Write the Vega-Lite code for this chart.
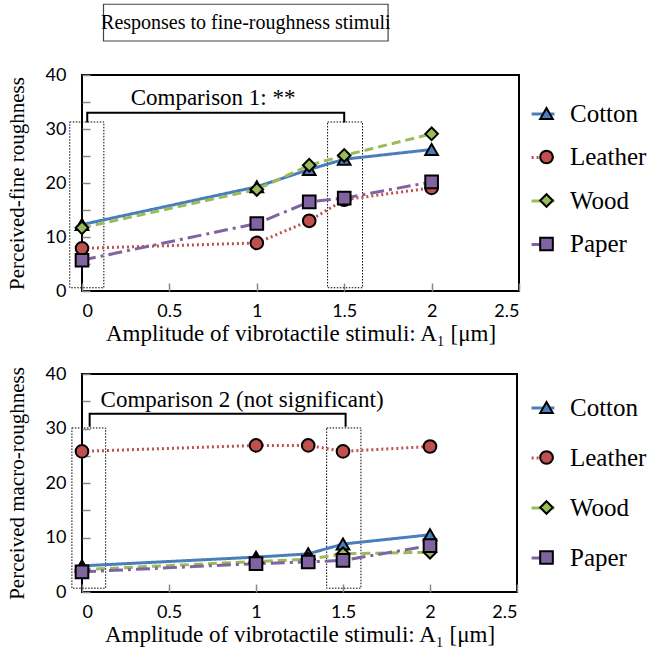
{
  "$schema": "https://vega.github.io/schema/vega-lite/v6.json",
  "padding": {"left": 5, "top": 2, "right": 0, "bottom": 0},
  "background": "white",
  "config": {
    "font": "Liberation Serif, Times New Roman, serif",
    "text": {"font": "Liberation Serif, Times New Roman, serif"},
    "view": {"stroke": "black", "strokeWidth": 2},
    "axis": {
      "labelFont": "Lato", "titleFont": "Liberation Serif, Times New Roman, serif",
      "labelFontSize": 18, "titleFontSize": 21, "titleFontWeight": "normal",
      "labelColor": "black", "titleColor": "black",
      "grid": false, "domain": false,
      "tickColor": "#888888", "tickSize": -8, "tickWidth": 1.5
    },
    "axisX": {"titleFontSize": 23},
    "legend": {"labelFont": "Liberation Serif, Times New Roman, serif"},
    "concat": {"spacing": 18}
  },
  "resolve": {
    "scale": {"x": "independent", "y": "independent", "color": "independent", "shape": "independent", "stroke": "independent", "strokeDash": "independent"},
    "legend": {"color": "independent", "shape": "independent", "stroke": "independent", "strokeDash": "independent"}
  },
  "datasets": {
    "fine": [
      {"amp": 0, "material": "Cotton", "v": 12.3},
      {"amp": 1, "material": "Cotton", "v": 19.3},
      {"amp": 1.3, "material": "Cotton", "v": 22.5},
      {"amp": 1.5, "material": "Cotton", "v": 24.4},
      {"amp": 2, "material": "Cotton", "v": 26.2},
      {"amp": 0, "material": "Leather", "v": 7.9},
      {"amp": 1, "material": "Leather", "v": 8.9},
      {"amp": 1.3, "material": "Leather", "v": 13.0},
      {"amp": 1.5, "material": "Leather", "v": 16.9},
      {"amp": 2, "material": "Leather", "v": 19.1},
      {"amp": 0, "material": "Wood", "v": 11.7},
      {"amp": 1, "material": "Wood", "v": 18.8},
      {"amp": 1.3, "material": "Wood", "v": 23.3},
      {"amp": 1.5, "material": "Wood", "v": 25.1},
      {"amp": 2, "material": "Wood", "v": 29.1},
      {"amp": 0, "material": "Paper", "v": 5.7},
      {"amp": 1, "material": "Paper", "v": 12.5},
      {"amp": 1.3, "material": "Paper", "v": 16.5},
      {"amp": 1.5, "material": "Paper", "v": 17.2},
      {"amp": 2, "material": "Paper", "v": 20.2}
    ],
    "macro": [
      {"amp": 0, "material": "Cotton", "v": 4.8},
      {"amp": 1, "material": "Cotton", "v": 6.4},
      {"amp": 1.3, "material": "Cotton", "v": 7.0},
      {"amp": 1.5, "material": "Cotton", "v": 8.8},
      {"amp": 2, "material": "Cotton", "v": 10.5},
      {"amp": 0, "material": "Leather", "v": 25.8},
      {"amp": 1, "material": "Leather", "v": 26.9},
      {"amp": 1.3, "material": "Leather", "v": 26.9},
      {"amp": 1.5, "material": "Leather", "v": 25.8},
      {"amp": 2, "material": "Leather", "v": 26.7},
      {"amp": 0, "material": "Wood", "v": 4.1},
      {"amp": 1, "material": "Wood", "v": 5.6},
      {"amp": 1.3, "material": "Wood", "v": 6.0},
      {"amp": 1.5, "material": "Wood", "v": 7.0},
      {"amp": 2, "material": "Wood", "v": 7.3},
      {"amp": 0, "material": "Paper", "v": 3.7},
      {"amp": 1, "material": "Paper", "v": 5.2},
      {"amp": 1.3, "material": "Paper", "v": 5.5},
      {"amp": 1.5, "material": "Paper", "v": 5.8},
      {"amp": 2, "material": "Paper", "v": 8.5}
    ],
    "fineBoxes": [
      {"amp": -0.07, "amp2": 0.125, "v": 0.6, "v2": 31.3},
      {"amp": 1.405, "amp2": 1.605, "v": 0.6, "v2": 31.3}
    ],
    "fineBracket": [
      {"o": 1, "amp": 0.03, "v": 31.2},
      {"o": 2, "amp": 0.03, "v": 33},
      {"o": 3, "amp": 1.5, "v": 33},
      {"o": 4, "amp": 1.5, "v": 31.2}
    ],
    "titleBox": [
      {"amp": 0.123, "amp2": 1.751, "v": 46.3, "v2": 53.1}
    ],
    "fineText": [
      {"amp": 0.75, "v": 35.8, "label": "Comparison 1: **"}
    ],
    "titleText": [
      {"amp": 0.937, "v": 49.7, "label": "Responses to fine-roughness stimuli"}
    ],
    "macroBoxes": [
      {"amp": -0.058, "amp2": 0.136, "v": 0.7, "v2": 30.1},
      {"amp": 1.406, "amp2": 1.603, "v": 0.7, "v2": 30.1}
    ],
    "macroBracket": [
      {"o": 1, "amp": 0.044, "v": 30.3},
      {"o": 2, "amp": 0.044, "v": 32.7},
      {"o": 3, "amp": 1.515, "v": 32.7},
      {"o": 4, "amp": 1.515, "v": 30.3}
    ],
    "macroText": [
      {"amp": 0.92, "v": 35.3, "label": "Comparison 2 (not significant)"}
    ]
  },
  "vconcat": [
    {
      "width": 437,
      "height": 216,
      "encoding": {
        "x": {"field": "amp", "type": "quantitative", "scale": {"domain": [0, 2.5], "nice": false},
          "axis": {"title": "Amplitude of vibrotactile stimuli: A₁ [μm]", "values": [0, 0.5, 1, 1.5, 2, 2.5], "format": "~g", "labelPadding": 19, "titlePadding": 2}},
        "y": {"field": "v", "type": "quantitative", "scale": {"domain": [0, 40], "nice": false},
          "axis": {"title": "Perceived-fine roughness", "values": [0, 5, 10, 15, 20, 25, 30, 35, 40], "labelExpr": "datum.value % 10 === 0 ? datum.label : ''", "labelPadding": 24, "titlePadding": 18}}
      },
      "layer": [
        {
          "data": {"name": "fineBoxes"},
          "mark": {"type": "rect", "filled": false, "color": "black", "strokeWidth": 1, "strokeDash": [1.5, 1.5]},
          "encoding": {"x2": {"field": "amp2"}, "y2": {"field": "v2"}}
        },
        {
          "data": {"name": "titleBox"},
          "mark": {"type": "rect", "filled": false, "color": "#444444", "strokeWidth": 1.2},
          "encoding": {"x2": {"field": "amp2"}, "y2": {"field": "v2"}}
        },
        {
          "data": {"name": "fineBracket"},
          "mark": {"type": "line", "color": "black", "strokeWidth": 2},
          "encoding": {"order": {"field": "o", "type": "quantitative"}}
        },
        {
          "data": {"name": "fineText"},
          "mark": {"type": "text", "font": "Liberation Serif, Times New Roman, serif", "fontSize": 23, "align": "center", "baseline": "middle", "color": "black"},
          "encoding": {"text": {"field": "label"}}
        },
        {
          "data": {"name": "titleText"},
          "mark": {"type": "text", "font": "Liberation Serif, Times New Roman, serif", "fontSize": 20, "align": "center", "baseline": "middle", "color": "black"},
          "encoding": {"text": {"field": "label"}}
        },
        {
          "data": {"name": "fine"},
          "mark": {"type": "line", "strokeWidth": 3},
          "encoding": {
            "stroke": {"field": "material", "type": "nominal", "sort": null, "scale": {"range": ["#4A7EBB", "#C0504D", "#9BBB59", "#8064A2"]},
              "legend": {"title": null, "orient": "none", "legendX": 448, "legendY": 26, "zindex": 0, "symbolType": "stroke", "symbolSize": 520, "symbolStrokeWidth": 3, "labelFontSize": 25, "labelExpr": "''", "labelColor": "transparent", "rowPadding": 17.5, "labelOffset": 11}},
            "strokeDash": {"field": "material", "type": "nominal", "sort": null, "scale": {"range": [[1, 0], [2, 3], [9, 5], [14, 5, 3, 5]]}}
          }
        },
        {
          "data": {"name": "fine"},
          "mark": {"type": "point", "filled": true, "stroke": "black", "strokeWidth": 2, "size": 160, "opacity": 1},
          "encoding": {
            "color": {"field": "material", "type": "nominal", "scale": {"domain": ["Cotton", "Leather", "Wood", "Paper"], "range": ["#4A7EBB", "#C0504D", "#9BBB59", "#8064A2"]},
              "legend": {"title": null, "orient": "none", "legendX": 452, "legendY": 26, "zindex": 1, "labelFontSize": 25, "labelFont": "Liberation Serif, Times New Roman, serif", "labelColor": "black", "rowPadding": 17.5, "symbolSize": 160, "symbolStrokeWidth": 2, "symbolStrokeColor": "black", "labelOffset": 11,
                "encode": {"symbols": {"update": {"stroke": {"value": "black"}, "strokeWidth": {"value": 2}}}}}},
            "shape": {"field": "material", "type": "nominal", "scale": {"domain": ["Cotton", "Leather", "Wood", "Paper"], "range": ["triangle-up", "circle", "diamond", "square"]}}
          }
        }
      ]
    },
    {
      "width": 435,
      "height": 218,
      "encoding": {
        "x": {"field": "amp", "type": "quantitative", "scale": {"domain": [0, 2.5], "nice": false},
          "axis": {"title": "Amplitude of vibrotactile stimuli: A₁ [μm]", "values": [0, 0.5, 1, 1.5, 2, 2.5], "format": "~g", "labelPadding": 19, "titlePadding": 2}},
        "y": {"field": "v", "type": "quantitative", "scale": {"domain": [0, 40], "nice": false},
          "axis": {"title": "Perceived macro-roughness", "values": [0, 5, 10, 15, 20, 25, 30, 35, 40], "labelExpr": "datum.value % 10 === 0 ? datum.label : ''", "labelPadding": 24, "titlePadding": 18}}
      },
      "layer": [
        {
          "data": {"name": "macroBoxes"},
          "mark": {"type": "rect", "filled": false, "color": "black", "strokeWidth": 1, "strokeDash": [1.5, 1.5]},
          "encoding": {"x2": {"field": "amp2"}, "y2": {"field": "v2"}}
        },
        {
          "data": {"name": "macroBracket"},
          "mark": {"type": "line", "color": "black", "strokeWidth": 2},
          "encoding": {"order": {"field": "o", "type": "quantitative"}}
        },
        {
          "data": {"name": "macroText"},
          "mark": {"type": "text", "font": "Liberation Serif, Times New Roman, serif", "fontSize": 23, "align": "center", "baseline": "middle", "color": "black"},
          "encoding": {"text": {"field": "label"}}
        },
        {
          "data": {"name": "macro"},
          "mark": {"type": "line", "strokeWidth": 3},
          "encoding": {
            "stroke": {"field": "material", "type": "nominal", "sort": null, "scale": {"range": ["#4A7EBB", "#C0504D", "#9BBB59", "#8064A2"]},
              "legend": {"title": null, "orient": "none", "legendX": 448, "legendY": 21, "zindex": 0, "symbolType": "stroke", "symbolSize": 520, "symbolStrokeWidth": 3, "labelFontSize": 25, "labelExpr": "''", "labelColor": "transparent", "rowPadding": 24, "labelOffset": 11}},
            "strokeDash": {"field": "material", "type": "nominal", "sort": null, "scale": {"range": [[1, 0], [2, 3], [9, 5], [14, 5, 3, 5]]}}
          }
        },
        {
          "data": {"name": "macro"},
          "mark": {"type": "point", "filled": true, "stroke": "black", "strokeWidth": 2, "size": 160, "opacity": 1},
          "encoding": {
            "color": {"field": "material", "type": "nominal", "scale": {"domain": ["Cotton", "Leather", "Wood", "Paper"], "range": ["#4A7EBB", "#C0504D", "#9BBB59", "#8064A2"]},
              "legend": {"title": null, "orient": "none", "legendX": 452, "legendY": 21, "zindex": 1, "labelFontSize": 25, "labelFont": "Liberation Serif, Times New Roman, serif", "labelColor": "black", "rowPadding": 24, "symbolSize": 160, "symbolStrokeWidth": 2, "symbolStrokeColor": "black", "labelOffset": 11,
                "encode": {"symbols": {"update": {"stroke": {"value": "black"}, "strokeWidth": {"value": 2}}}}}},
            "shape": {"field": "material", "type": "nominal", "scale": {"domain": ["Cotton", "Leather", "Wood", "Paper"], "range": ["triangle-up", "circle", "diamond", "square"]}}
          }
        }
      ]
    }
  ]
}
